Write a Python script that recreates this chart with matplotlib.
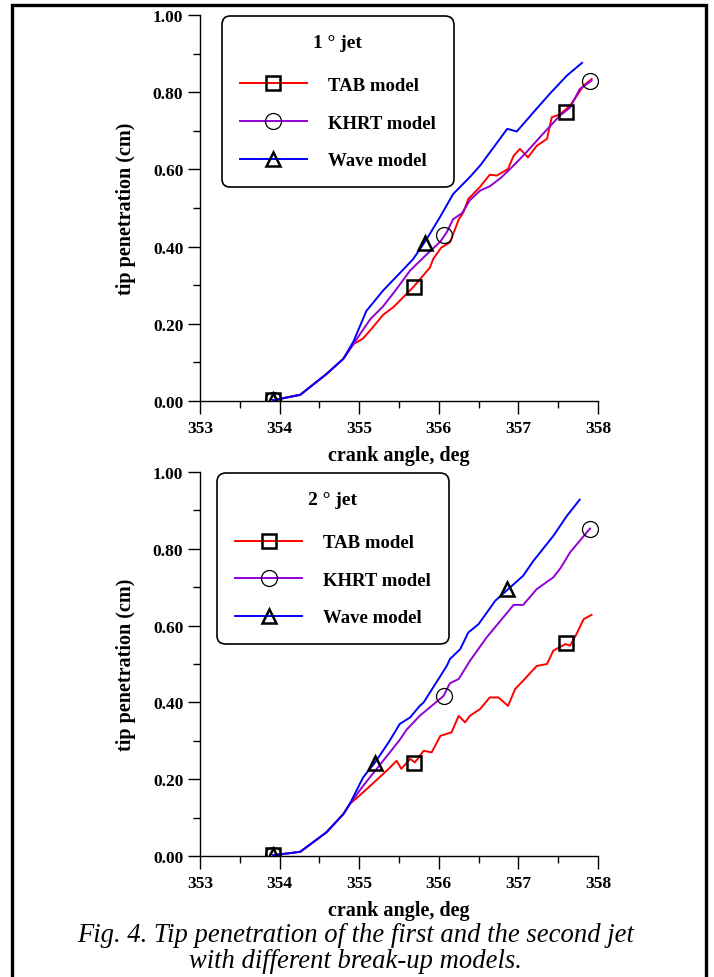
import matplotlib
matplotlib.use('Agg')
import matplotlib.pyplot as plt
from matplotlib.lines import Line2D
from matplotlib.patches import Rectangle
from matplotlib.ticker import MultipleLocator, FormatStrFormatter

plt.rcParams['font.family'] = ['Liberation Serif', 'DejaVu Serif']
plt.rcParams['font.weight'] = 'bold'

RED = '#ff0000'
PURPLE = '#9400d3'
BLUE = '#0000ff'

# ---- 1 deg jet ----
tab1_x = [353.92, 354.26, 354.59, 354.8, 354.93, 354.97, 355.05, 355.18, 355.3, 355.43, 355.53,
          355.68, 355.89, 355.93, 356.03, 356.14, 356.18, 356.25, 356.31, 356.37, 356.52, 356.64,
          356.73, 356.87, 356.94, 357.02, 357.12, 357.23, 357.36, 357.42, 357.52, 357.65, 357.82, 357.92]
tab1_y = [0.002, 0.016, 0.07, 0.109, 0.148, 0.152, 0.162, 0.193, 0.223, 0.243, 0.264,
          0.295, 0.346, 0.368, 0.397, 0.411, 0.432, 0.470, 0.489, 0.523, 0.555, 0.586,
          0.584, 0.601, 0.635, 0.653, 0.631, 0.661, 0.679, 0.735, 0.742, 0.765, 0.817, 0.834]

khrt1_x = [353.92, 354.26, 354.59, 354.8, 354.93, 355.01, 355.14, 355.3, 355.47, 355.64, 355.85,
           356.02, 356.1, 356.18, 356.29, 356.39, 356.52, 356.64, 356.78, 356.94, 357.1, 357.3,
           357.52, 357.65, 357.77, 357.92]
khrt1_y = [0.002, 0.016, 0.07, 0.109, 0.148, 0.173, 0.212, 0.245, 0.29, 0.338, 0.38,
           0.413, 0.437, 0.471, 0.486, 0.52, 0.545, 0.556, 0.578, 0.61, 0.644, 0.69,
           0.739, 0.76, 0.808, 0.83]

wave1_x = [353.92, 354.26, 354.59, 354.8, 354.93, 355.09, 355.3, 355.51, 355.68, 355.85, 356.02,
           356.18, 356.39, 356.52, 356.7, 356.86, 356.98, 357.19, 357.4, 357.61, 357.8]
wave1_y = [0.002, 0.016, 0.07, 0.109, 0.155, 0.233, 0.286, 0.331, 0.368, 0.42, 0.478,
           0.536, 0.58, 0.61, 0.66, 0.705, 0.698, 0.748, 0.797, 0.843, 0.876]

tab1_mx, tab1_my = [353.92, 355.69, 357.6], [0.002, 0.295, 0.749]
khrt1_mx, khrt1_my = [353.92, 356.06, 357.9], [0.002, 0.43, 0.83]
wave1_mx, wave1_my = [353.92, 355.83], [0.002, 0.41]

# ---- 2 deg jet ----
tab2_x = [353.92, 354.26, 354.59, 354.8, 354.88, 355.05, 355.14, 355.37, 355.47, 355.53, 355.64,
          355.7, 355.81, 355.91, 356.02, 356.16, 356.25, 356.33, 356.39, 356.52, 356.64, 356.75,
          356.87, 356.96, 357.08, 357.23, 357.36, 357.44, 357.59, 357.65, 357.73, 357.82, 357.92]
tab2_y = [0.002, 0.011, 0.062, 0.109, 0.135, 0.166, 0.183, 0.227, 0.248, 0.227, 0.253,
          0.244, 0.274, 0.27, 0.313, 0.322, 0.365, 0.348, 0.365, 0.383, 0.413, 0.413,
          0.391, 0.435, 0.461, 0.495, 0.5, 0.535, 0.552, 0.548, 0.578, 0.617, 0.628]

khrt2_x = [353.92, 354.26, 354.59, 354.8, 354.88, 355.05, 355.37, 355.5, 355.6, 355.76, 356.06,
           356.14, 356.25, 356.39, 356.6, 356.94, 357.06, 357.23, 357.44, 357.53, 357.65, 357.9]
khrt2_y = [0.002, 0.011, 0.062, 0.109, 0.135, 0.183, 0.266, 0.3, 0.33, 0.365, 0.417,
           0.45, 0.461, 0.508, 0.569, 0.654, 0.654, 0.695, 0.726, 0.75, 0.791, 0.853]

wave2_x = [353.92, 354.26, 354.59, 354.8, 354.88, 355.05, 355.2, 355.37, 355.51, 355.64, 355.76,
           355.81, 356.1, 356.14, 356.27, 356.37, 356.5, 356.71, 356.85, 357.06, 357.19, 357.44,
           357.61, 357.77]
wave2_y = [0.002, 0.011, 0.062, 0.109, 0.135, 0.205, 0.244, 0.296, 0.344, 0.361, 0.391,
           0.4, 0.495, 0.513, 0.539, 0.582, 0.604, 0.665, 0.691, 0.73, 0.769, 0.834,
           0.886, 0.928]

tab2_mx, tab2_my = [353.92, 355.69, 357.6], [0.002, 0.242, 0.555]
khrt2_mx, khrt2_my = [353.92, 356.06, 357.9], [0.002, 0.417, 0.853]
wave2_mx, wave2_my = [353.92, 355.2, 356.86], [0.002, 0.242, 0.695]

labels = ['TAB model', 'KHRT model', 'Wave model']


def draw(ax, series, marks, title, leg_x):
    colors = [RED, PURPLE, BLUE]
    mk = ['s', 'o', '^']
    ms = [10.5, 11.5, 10.5]
    mew = [1.8, 0.9, 1.8]
    for (x, y), c in zip(series, colors):
        ax.plot(x, y, color=c, lw=1.4)
    for (mx, my), m, s, w in zip(marks, mk, ms, mew):
        ax.plot(mx, my, ls='none', marker=m, ms=s, mfc='none', mec='k', mew=w)

    ax.set_xlim(353, 358)
    ax.set_ylim(0, 1.0)
    ax.spines['top'].set_visible(False)
    ax.spines['right'].set_visible(False)
    ax.spines['left'].set_linewidth(1.0)
    ax.spines['bottom'].set_linewidth(1.0)
    ax.xaxis.set_major_locator(MultipleLocator(1))
    ax.xaxis.set_minor_locator(MultipleLocator(0.5))
    ax.yaxis.set_major_locator(MultipleLocator(0.2))
    ax.yaxis.set_minor_locator(MultipleLocator(0.1))
    ax.yaxis.set_major_formatter(FormatStrFormatter('%.2f'))
    ax.tick_params(which='major', length=9, width=1.0, labelsize=12.5, pad=3)
    ax.tick_params(axis='x', which='major', pad=5)
    ax.tick_params(which='minor', length=5, width=1.0)
    for t in ax.get_xticklabels() + ax.get_yticklabels():
        t.set_fontweight('bold')
    ax.set_xlabel('crank angle, deg', fontsize=14.5, fontweight='bold', labelpad=6)
    ax.set_ylabel('tip penetration (cm)', fontsize=14.5, fontweight='bold', labelpad=12)

    handles = [Line2D([], [], color=c, lw=1.4, marker=m, ms=s, mfc='none', mec='k', mew=w)
               for c, m, s, w in zip(colors, mk, ms, mew)]
    leg = ax.legend(handles, labels, title=title, loc='upper left',
                    bbox_to_anchor=(leg_x, 0.997), borderaxespad=0,
                    prop={'size': 13.5, 'weight': 'bold'},
                    title_fontproperties={'size': 14, 'weight': 'bold'},
                    handlelength=3.6, handletextpad=1.1, labelspacing=1.09,
                    borderpad=0.95, fancybox=True, framealpha=1, edgecolor='k',
                    numpoints=1)
    # a bit more room between the title and the first entry
    leg._legend_box.sep = 1.09 * 13.5 + 4
    leg.get_frame().set_linewidth(1.2)
    leg.get_frame().set_boxstyle('round', pad=0, rounding_size=0.45)


fig = plt.figure(figsize=(7.14, 9.78), dpi=100, facecolor='w')
ax1 = fig.add_axes([0.2801, 0.5890, 0.5574, 0.3947])
ax2 = fig.add_axes([0.2801, 0.1237, 0.5574, 0.3926])

draw(ax1, [(tab1_x, tab1_y), (khrt1_x, khrt1_y), (wave1_x, wave1_y)],
     [(tab1_mx, tab1_my), (khrt1_mx, khrt1_my), (wave1_mx, wave1_my)], '1 ° jet', 0.055)
draw(ax2, [(tab2_x, tab2_y), (khrt2_x, khrt2_y), (wave2_x, wave2_y)],
     [(tab2_mx, tab2_my), (khrt2_mx, khrt2_my), (wave2_mx, wave2_my)], '2 ° jet', 0.043)

fig.text(0.498, 1 - 936 / 978, 'Fig. 4. Tip penetration of the first and the second jet',
         ha='center', va='center', fontsize=19.2, style='italic', fontweight='normal')
fig.text(0.498, 1 - 962 / 978, 'with different break-up models.',
         ha='center', va='center', fontsize=19.2, style='italic', fontweight='normal')

fig.add_artist(Rectangle((12 / 714, -0.02), 694 / 714, 1.02 - 6 / 978, transform=fig.transFigure,
                         fill=False, edgecolor='k', lw=2.4))

plt.savefig('out.png', dpi=100)
